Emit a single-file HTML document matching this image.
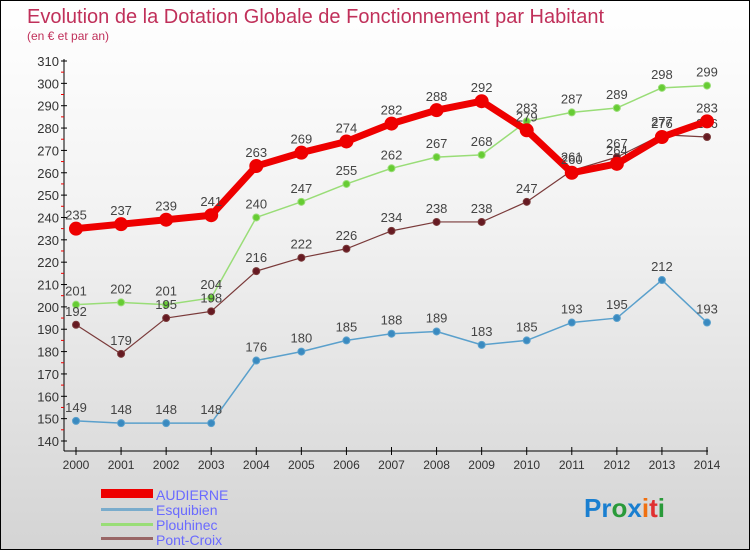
<!DOCTYPE html>
<html><head><meta charset="utf-8"><style>
body{margin:0;width:750px;height:550px;overflow:hidden;font-family:"Liberation Sans",sans-serif}
#wrap{position:relative;width:748px;height:548px;border:1px solid #000;background:linear-gradient(#fff,#f2f2f2 40%,#d4d4d4)}
</style></head><body>
<div id="wrap">
<svg id="svg" width="748" height="548" xmlns="http://www.w3.org/2000/svg">
<text x="26" y="22" font-size="20" fill="#c0305a">Evolution de la Dotation Globale de Fonctionnement par Habitant</text>
<text x="26" y="39" font-size="12" fill="#c0305a">(en € et par an)</text>
<g id="axes"></g><g id="series"></g>
<g>
<rect x="100" y="488" width="52" height="9" fill="#e00"/>
<text x="155" y="499" font-size="14" fill="#6a6aff">AUDIERNE</text>
<rect x="100" y="507" width="52" height="3" fill="#7aaccc"/>
<text x="155" y="514" font-size="14" fill="#6a6aff">Esquibien</text>
<rect x="100" y="522" width="52" height="3" fill="#99dd77"/>
<text x="155" y="529" font-size="14" fill="#6a6aff">Plouhinec</text>
<rect x="100" y="536" width="52" height="3" fill="#996666"/>
<text x="155" y="544" font-size="14" fill="#6a6aff">Pont-Croix</text>
</g>
<g font-size="26" font-weight="bold">
<text x="583" y="516"><tspan fill="#1a7fd0">Pr</tspan><tspan fill="#2a9a3a">o</tspan><tspan fill="#1a7fd0">x</tspan><tspan fill="#f07010">i</tspan><tspan fill="#e03030">t</tspan><tspan fill="#2a9a3a">i</tspan></text>
</g>
</svg></div>
<script>
const years=[2000,2001,2002,2003,2004,2005,2006,2007,2008,2009,2010,2011,2012,2013,2014];
const audierne=[235,237,239,241,263,269,274,282,288,292,279,260,264,276,283];
const esquibien=[149,148,148,148,176,180,185,188,189,183,185,193,195,212,193];
const plouhinec=[201,202,201,204,240,247,255,262,267,268,283,287,289,298,299];
const pontcroix=[192,179,195,198,216,222,226,234,238,238,247,261,267,277,276];
const yTicks=[140,150,160,170,180,190,200,210,220,230,240,250,260,270,280,290,300,310];
const NS='http://www.w3.org/2000/svg';
const X=i=>75+i*(706-75)/(years.length-1);
const Y=v=>440-(v-140)*(380/170);
function mk(t,a,p){const e=document.createElementNS(NS,t);for(const k in a)e.setAttribute(k,a[k]);p.appendChild(e);return e;}
const ax=document.getElementById('axes');
let l=mk('line',{x1:63,y1:58,x2:63,y2:450,stroke:'#000'},ax);


l=mk('line',{x1:63,y1:450,x2:707,y2:450,stroke:'#000'},ax);


yTicks.forEach(v=>{const y=Y(v);
mk('line',{x1:60,y1:y,x2:66,y2:y,stroke:'#000'},ax);
if(v<310)mk('line',{x1:60,y1:y-11.2,x2:63,y2:y-11.2,stroke:'#e00'},ax);
const t=mk('text',{x:58,y:y+5,'font-size':13,fill:'#333','text-anchor':'end'},ax);t.textContent=v;

});
years.forEach((yr,i)=>{const x=X(i);
mk('line',{x1:x,y1:446,x2:x,y2:454,stroke:'#000'},ax);
const t=mk('text',{x:x,y:468,'font-size':12,fill:'#333','text-anchor':'middle'},ax);t.textContent=yr;

});
const sg=document.getElementById('series');
function series(name,data,color,w,r,dot){
const g=mk('g',{},sg);


mk('polyline',{points:data.map((v,i)=>X(i)+','+Y(v)).join(' '),fill:'none',stroke:color,'stroke-width':w,'stroke-linejoin':'round'},g);
data.forEach((v,i)=>{const c=mk('circle',{cx:X(i),cy:Y(v),r:r,fill:dot,stroke:color,'stroke-width':1},g);


const t=mk('text',{x:X(i),y:Y(v)-9,'font-size':13,fill:'#444','text-anchor':'middle'},g);t.textContent=v;

});}
series('esquibien',esquibien,'#5aa0cc',1.5,3.5,'#3a8ac0');
series('plouhinec',plouhinec,'#99dd77',1.5,3.5,'#66cc33');
series('pont-croix',pontcroix,'#7a3a3a',1.2,3.5,'#661a22');
series('audierne',audierne,'#ee0000',7,6.5,'#ee0000');
</script>
</body></html>
